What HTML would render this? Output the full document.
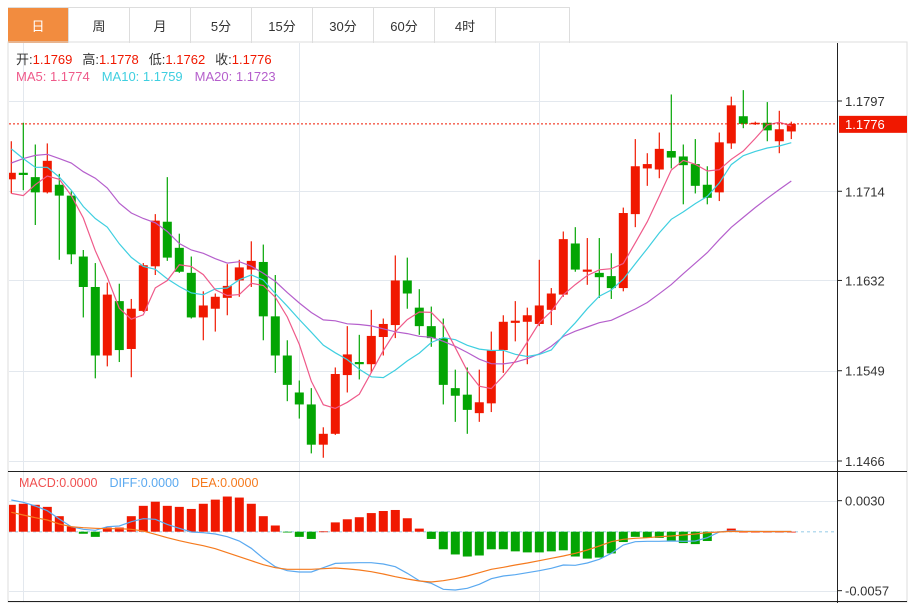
<!DOCTYPE html>
<html><head><meta charset="utf-8">
<style>
body{margin:0;width:915px;height:603px;background:#fff;overflow:hidden;font-family:"Liberation Sans","Noto Sans CJK SC",sans-serif;}
#tabs{position:absolute;left:8px;top:7px;height:35px;display:flex;border-top:1px solid #ddd;}
.tab{width:61px;height:35px;border-right:1px solid #ddd;box-sizing:border-box;display:flex;align-items:center;justify-content:center;font-size:13px;color:#333;}
.tab.on{background:#f28c3f;color:#fff;}
svg{position:absolute;left:0;top:0;}
</style></head><body>
<div id="tabs">
<div class="tab on">日</div>
<div class="tab">周</div>
<div class="tab">月</div>
<div class="tab">5分</div>
<div class="tab">15分</div>
<div class="tab">30分</div>
<div class="tab">60分</div>
<div class="tab">4时</div>
<div class="tab" style="width:74px"></div>
</div>
<svg id="chart" width="915" height="603"></svg>
<script>
const openP=[1.1725,1.1731,1.1727,1.1713,1.1720,1.1710,1.1654,1.1626,1.1563,1.1613,1.1569,1.1604,1.1645,1.1686,1.1662,1.1639,1.1598,1.1606,1.1616,1.1632,1.1642,1.1649,1.1599,1.1563,1.1529,1.1518,1.1481,1.1491,1.1545,1.1557,1.1555,1.1580,1.1591,1.1632,1.1607,1.1590,1.1579,1.1533,1.1527,1.1510,1.1519,1.1568,1.1593,1.1594,1.1592,1.1605,1.1619,1.1666,1.1640,1.1639,1.1636,1.1625,1.1693,1.1735,1.1734,1.1751,1.1746,1.1739,1.1720,1.1713,1.1758,1.1783,1.1776,1.1777,1.1760,1.1769];
const highP=[1.1760,1.1777,1.1757,1.1758,1.1730,1.1714,1.1660,1.1648,1.1630,1.1629,1.1615,1.1648,1.1693,1.1727,1.1675,1.1654,1.1622,1.1620,1.1647,1.1651,1.1668,1.1665,1.1637,1.1577,1.1540,1.1533,1.1497,1.1552,1.1590,1.1582,1.1605,1.1597,1.1655,1.1653,1.1624,1.1608,1.1597,1.1550,1.1552,1.1550,1.1585,1.1600,1.1613,1.1607,1.1651,1.1625,1.1677,1.1681,1.1671,1.1671,1.1657,1.1699,1.1762,1.1749,1.1768,1.1803,1.1757,1.1762,1.1737,1.1768,1.1801,1.1807,1.1778,1.1796,1.1788,1.1778];
const lowP=[1.1712,1.1715,1.1683,1.1712,1.1651,1.1647,1.1598,1.1542,1.1553,1.1557,1.1543,1.1603,1.1637,1.1650,1.1639,1.1597,1.1577,1.1585,1.1600,1.1617,1.1626,1.1577,1.1547,1.1521,1.1505,1.1473,1.1469,1.1490,1.1529,1.1541,1.1547,1.1563,1.1579,1.1606,1.1582,1.1571,1.1518,1.1502,1.1491,1.1502,1.1511,1.1547,1.1576,1.1555,1.1590,1.1591,1.1617,1.1640,1.1628,1.1616,1.1615,1.1622,1.1681,1.1719,1.1726,1.1735,1.1702,1.1712,1.1702,1.1705,1.1753,1.1772,1.1775,1.1760,1.1749,1.1762];
const closeP=[1.1731,1.1729,1.1713,1.1742,1.1710,1.1656,1.1626,1.1563,1.1619,1.1568,1.1606,1.1646,1.1687,1.1653,1.1640,1.1598,1.1609,1.1617,1.1627,1.1644,1.1650,1.1599,1.1563,1.1536,1.1518,1.1481,1.1491,1.1546,1.1564,1.1555,1.1581,1.1592,1.1632,1.1620,1.1590,1.1579,1.1536,1.1526,1.1513,1.1520,1.1568,1.1594,1.1595,1.1600,1.1609,1.1620,1.1670,1.1642,1.1642,1.1635,1.1625,1.1694,1.1737,1.1739,1.1753,1.1745,1.1738,1.1719,1.1708,1.1759,1.1793,1.1776,1.1777,1.1770,1.1771,1.1776];
const ma5Seed=[1.1712,1.1710,1.1720,1.1728];
const ma10Seed=[1.1753,1.1744,1.1736,1.1736,1.1727,1.1715,1.1700,1.1689,1.1681];
const ma20Seed=[1.1740,1.1744,1.1747,1.1748,1.1744,1.1740,1.1732,1.1726,1.1717,1.1703,1.1694,1.1689,1.1685,1.1677,1.1666,1.1660,1.1657,1.1652,1.1648];
const priceTicks=["1.1797","1.1714","1.1632","1.1549","1.1466"];
const macdHist=[0.0026,0.0027,0.0026,0.0024,0.0015,0.0005,-0.0002,-0.0005,0.0004,0.0004,0.0015,0.0025,0.0029,0.0025,0.0024,0.0022,0.0027,0.0031,0.0034,0.0033,0.0027,0.0015,0.0006,-0.00003,-0.0005,-0.0007,0.00003,0.0009,0.0012,0.0014,0.0018,0.0020,0.0021,0.0013,0.0003,-0.0007,-0.0017,-0.0022,-0.0024,-0.0023,-0.0017,-0.0017,-0.0019,-0.0020,-0.0020,-0.0019,-0.0018,-0.0024,-0.0026,-0.0025,-0.0021,-0.0010,-0.0005,-0.0006,-0.0006,-0.0009,-0.0011,-0.0012,-0.0009,0,0.0003,0,0,0,0,0];
const diffV=[0.00306,0.00284,0.00248,0.00203,0.00123,0.00048,0.00023,0.00014,0.00048,0.00055,0.00097,0.00126,0.0012,0.00071,0.00033,-0.00003,-0.0001,-0.00022,-0.00048,-0.0009,-0.0016,-0.00257,-0.00338,-0.00377,-0.0039,-0.0039,-0.00348,-0.00306,-0.00303,-0.003,-0.003,-0.00312,-0.00338,-0.00402,-0.00474,-0.00499,-0.00557,-0.00564,-0.00547,-0.00508,-0.00454,-0.00428,-0.00416,-0.00396,-0.00377,-0.00354,-0.00322,-0.00325,-0.00303,-0.00267,-0.00209,-0.00129,-0.00097,-0.00093,-0.00093,-0.0009,-0.00093,-0.0009,-0.00058,-0.00003,0.0001,0.00005,0.00003,0.00002,0.00002,0.00002];
const deaV=[0.00188,0.00161,0.00135,0.00113,0.00074,0.00048,0.00039,0.00033,0.00029,0.00029,0.00023,0.00007,-0.00025,-0.00058,-0.00087,-0.00112,-0.00135,-0.00164,-0.00203,-0.00242,-0.0028,-0.00319,-0.00348,-0.00363,-0.00363,-0.00363,-0.00358,-0.00351,-0.0036,-0.0037,-0.00387,-0.00409,-0.00435,-0.00457,-0.00477,-0.00486,-0.00474,-0.00454,-0.00428,-0.00396,-0.00363,-0.00344,-0.00322,-0.00303,-0.0028,-0.00257,-0.00235,-0.00209,-0.00177,-0.00138,-0.00097,-0.00073,-0.00064,-0.00058,-0.00048,-0.00042,-0.00032,-0.00022,-0.0001,-0.00003,0.00003,0.00002,0.00002,0.00002,0.00002,0.00002];
const macdTicks=["0.0030","-0.0057"];

const NS="http://www.w3.org/2000/svg";
const svg=document.getElementById('chart');
const RED="#f01800",GREEN="#03a503";
function xS(i){return 11.3+12*i;}
function yP(p){return 101+(1.1797-p)*360/0.0331;}
function yM(v){return 531.7-v*10345;}
function mk(tag,attrs,parent){const e=document.createElementNS(NS,tag);for(const k in attrs)e.setAttribute(k,attrs[k]);(parent||svg).appendChild(e);return e;}
function txt(x,y,s,fill,size,parent){const t=mk('text',{x:x,y:y,fill:fill,'font-size':size||13},parent);t.textContent=s;return t;}

const defs=mk('defs',{});
const c1=mk('clipPath',{id:'cp'},defs);mk('rect',{x:9,y:43,width:828,height:426},c1);
const c2=mk('clipPath',{id:'cm'},defs);mk('rect',{x:9,y:472,width:828,height:129},c2);

let e;
e=mk('rect',{x:8,y:42,width:899,height:560,fill:'none',stroke:'#ddd'});


const grid=mk('g',{stroke:'#e3e8ee','stroke-width':1});


priceTicks.forEach(t=>{const y=Math.round(yP(+t))+0.5;mk('line',{x1:9,x2:837,y1:y,y2:y},grid);});
[501.5,591.5].forEach(y=>mk('line',{x1:9,x2:837,y1:y,y2:y},grid));
[23.5,299.5,539.5].forEach(x=>{mk('line',{x1:x,x2:x,y1:43,y2:601},grid);});

mk('line',{x1:837.5,x2:837.5,y1:43,y2:603,stroke:'#222'});
mk('line',{x1:8,x2:907,y1:471.5,y2:471.5,stroke:'#222'});
mk('line',{x1:8,x2:907,y1:601.5,y2:601.5,stroke:'#222'});

const yAxis=mk('g',{});


priceTicks.forEach(t=>{const y=yP(+t);mk('line',{x1:837,x2:842,y1:y,y2:y,stroke:'#222'},yAxis);txt(845,y+5,t,'#333',13,yAxis);});
macdTicks.forEach(t=>{const y=yM(+t);mk('line',{x1:837,x2:842,y1:y,y2:y,stroke:'#222'},yAxis);txt(845,y+5,t,'#333',13,yAxis);});

const cg=mk('g',{'clip-path':'url(#cp)'});


for(let i=0;i<openP.length;i++){
  const up=closeP[i]>=openP[i];const col=up?RED:GREEN;const x=xS(i);
  mk('line',{x1:x,x2:x,y1:yP(highP[i]),y2:yP(lowP[i]),stroke:col,'stroke-width':1.2},cg);
  const t=yP(Math.max(openP[i],closeP[i])),b=yP(Math.min(openP[i],closeP[i]));
  const r=mk('rect',{x:x-4.5,y:t,width:9,height:Math.max(1.5,b-t),fill:col},cg);
  
  
}
function ma(n,seed){const out=[];for(let i=0;i<closeP.length;i++){if(i<n-1){out.push(seed[i]);}else{let s=0;for(let k=i-n+1;k<=i;k++)s+=closeP[k];out.push(s/n);}}return out;}
function poly(vals,fy,col,parent,name){const pts=vals.map((v,i)=>xS(i).toFixed(1)+','+fy(v).toFixed(1)).join(' ');const p=mk('polyline',{points:pts,fill:'none',stroke:col,'stroke-width':1.2},parent);return p;}
poly(ma(20,ma20Seed),yP,'#b55fcc',cg,'ma20-line');
poly(ma(10,ma10Seed),yP,'#3fcfe0',cg,'ma10-line');
poly(ma(5,ma5Seed),yP,'#ef5a8a',cg,'ma5-line');

const lastC=closeP[closeP.length-1];const ly=yP(lastC);
e=mk('line',{x1:9,x2:837,y1:ly,y2:ly,stroke:RED,'stroke-dasharray':'2,2'});


e=mk('rect',{x:839,y:ly-8,width:68,height:17,fill:RED});


txt(845,ly+5,lastC.toFixed(4),'#fff',13);

const mg=mk('g',{'clip-path':'url(#cm)'});


mk('line',{x1:9,x2:837,y1:yM(0),y2:yM(0),stroke:'#b8dcef','stroke-dasharray':'3,3','stroke-width':1.5},mg);
for(let i=0;i<macdHist.length;i++){
  const v=macdHist[i];const y0=yM(0),y1=yM(v);
  const r=mk('rect',{x:xS(i)-4.5,y:Math.min(y0,y1),width:9,height:Math.max(0.8,Math.abs(y1-y0)),fill:v>=0?RED:GREEN},mg);
  
  
}
poly(diffV,yM,'#5aa9f0',mg,'diff-line');
poly(deaV,yM,'#f57a1e',mg,'dea-line');

const lg=mk('g',{});


const L=openP.length-1;
let t1=mk('text',{x:16,y:64,'font-size':13},lg);
t1.innerHTML='<tspan fill="#333">开:</tspan><tspan fill="'+RED+'">'+openP[L].toFixed(4)+'</tspan><tspan fill="#333" dx="10">高:</tspan><tspan fill="'+RED+'">'+highP[L].toFixed(4)+'</tspan><tspan fill="#333" dx="10">低:</tspan><tspan fill="'+RED+'">'+lowP[L].toFixed(4)+'</tspan><tspan fill="#333" dx="10">收:</tspan><tspan fill="'+RED+'">'+lastC.toFixed(4)+'</tspan>';
const m5=ma(5,ma5Seed)[L],m10=ma(10,ma10Seed)[L],m20=ma(20,ma20Seed)[L];
let t2=mk('text',{x:16,y:81,'font-size':13},lg);
t2.innerHTML='<tspan fill="#ef5a8a">MA5: '+m5.toFixed(4)+'</tspan><tspan fill="#3fcfe0" dx="12">MA10: '+m10.toFixed(4)+'</tspan><tspan fill="#b55fcc" dx="12">MA20: '+m20.toFixed(4)+'</tspan>';
const ml=mk('g',{});


let t3=mk('text',{x:19,y:487,'font-size':12.5},ml);
t3.innerHTML='<tspan fill="#f05050">MACD:0.0000</tspan><tspan fill="#5aa9f0" dx="12">DIFF:0.0000</tspan><tspan fill="#f57a1e" dx="12">DEA:0.0000</tspan>';
</script>
</body></html>
